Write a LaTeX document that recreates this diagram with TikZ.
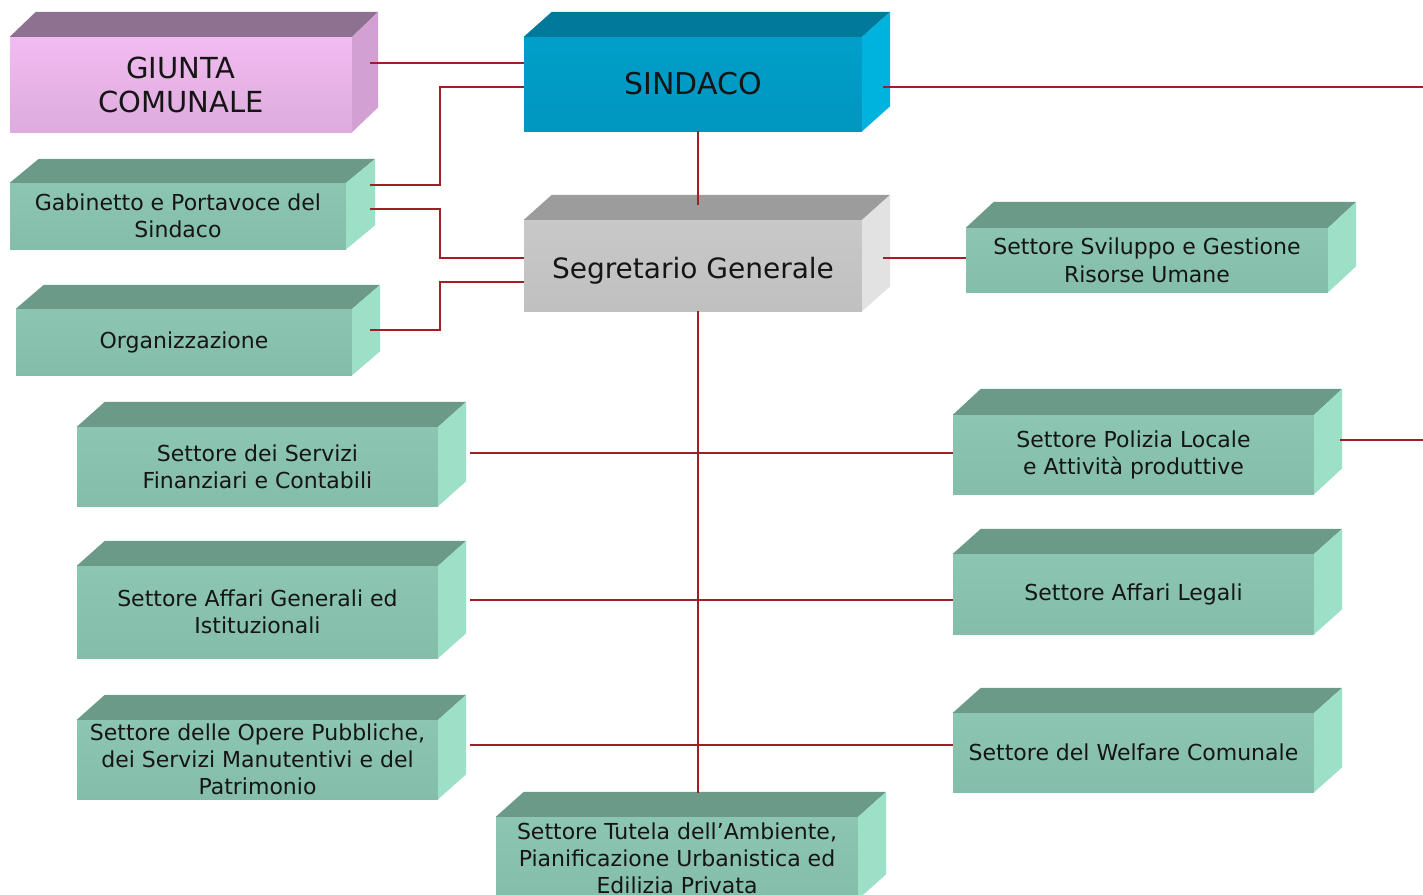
\documentclass[tikz,border=0pt]{standalone}
\usepackage{fontspec}
\setmainfont{DejaVu Sans}
\usetikzlibrary{calc}
\definecolor{linered}{HTML}{A01E26}
\definecolor{pinkF1}{HTML}{F1BCF1}
\definecolor{pinkF2}{HTML}{DEABDE}
\definecolor{pinkT}{HTML}{8E7190}
\definecolor{pinkS}{HTML}{D3A0D3}
\definecolor{blueF1}{HTML}{009FCA}
\definecolor{blueF2}{HTML}{0096C0}
\definecolor{blueT}{HTML}{00799A}
\definecolor{blueS}{HTML}{00B3DF}
\definecolor{grayF1}{HTML}{C8C8C8}
\definecolor{grayF2}{HTML}{C0C0C0}
\definecolor{grayT}{HTML}{9C9C9C}
\definecolor{grayS}{HTML}{E2E2E2}
\definecolor{grnF1}{HTML}{8CC6B2}
\definecolor{grnF2}{HTML}{84BDA9}
\definecolor{grnT}{HTML}{6C9A88}
\definecolor{grnS}{HTML}{9CE0C8}
\definecolor{txt}{HTML}{151515}
\tikzset{
  face/.style={draw=none, inner sep=0pt, align=center, text=txt,
    font=\fontsize{22}{27}\selectfont},
  greenbox/.style={face, top color=grnF1, bottom color=grnF2},
  pinkbox/.style={face, top color=pinkF1, bottom color=pinkF2,
    font=\fontsize{29}{34}\selectfont},
  bluebox/.style={face, top color=blueF1, bottom color=blueF2,
    font=\fontsize{30}{34}\selectfont},
  graybox/.style={face, top color=grayF1, bottom color=grayF2,
    font=\fontsize{28}{32}\selectfont, text height=26pt, text depth=0pt},
  conn/.style={draw=linered, line width=1.5pt}
}
% #1 node, #2 dx, #3 dy, #4 top colour, #5 side colour
\newcommand\cubesides[5]{%
  \fill[#4] (#1.north west) -- ++(#2,-#3) -- ($(#1.north east)+(#2,-#3)$) -- (#1.north east) -- cycle;
  \fill[#5] (#1.north east) -- ++(#2,-#3) -- ($(#1.south east)+(#2,-#3)$) -- (#1.south east) -- cycle;
}
\begin{document}
\begin{tikzpicture}[x=1pt,y=-1pt]
\useasboundingbox (0,0) rectangle (1423,894);
\clip (0,0) rectangle (1423,894);
\fill[white] (0,0) rectangle (1423,894);

% ---- boxes ----
\node[pinkbox, minimum width=342pt, minimum height=95pt] (giunta) at (181,84.5) {GIUNTA\\COMUNALE};
\cubesides{giunta}{26}{25}{pinkT}{pinkS}

\node[bluebox, minimum width=338pt, minimum height=94pt] (sind) at (693,84) {SINDACO};
\cubesides{sind}{28}{25}{blueT}{blueS}

\node[greenbox, minimum width=336pt, minimum height=66pt] (gab) at (178,216) {Gabinetto e Portavoce del\\Sindaco};
\cubesides{gab}{29}{24}{grnT}{grnS}

\node[graybox, minimum width=338pt, minimum height=91pt] (seg) at (693,265.5) {Segretario Generale};
\cubesides{seg}{28}{25}{grayT}{grayS}

\node[greenbox, minimum width=336pt, minimum height=66pt] (org) at (184,342) {Organizzazione};
\cubesides{org}{28}{24}{grnT}{grnS}

\node[greenbox, minimum width=362pt, minimum height=64pt] (svil) at (1147,260) {Settore Sviluppo e Gestione\\[1pt]Risorse Umane};
\cubesides{svil}{28}{26}{grnT}{grnS}

\node[greenbox, minimum width=361pt, minimum height=79pt] (fin) at (257.5,466.5) {Settore dei Servizi\\Finanziari e Contabili};
\cubesides{fin}{28}{25}{grnT}{grnS}

\node[greenbox, minimum width=361pt, minimum height=79pt] (pol) at (1133.5,454.5) {Settore Polizia Locale\\e Attività produttive};
\cubesides{pol}{28}{26}{grnT}{grnS}

\node[greenbox, minimum width=361pt, minimum height=92pt] (aff) at (257.5,612) {Settore Affari Generali ed\\Istituzionali};
\cubesides{aff}{28}{25}{grnT}{grnS}

\node[greenbox, minimum width=361pt, minimum height=80pt] (leg) at (1133.5,594) {Settore Affari Legali};
\cubesides{leg}{28}{25}{grnT}{grnS}

\node[greenbox, minimum width=361pt, minimum height=79pt] (op) at (257.5,759.5) {Settore delle Opere Pubbliche,\\dei Servizi Manutentivi e del\\Patrimonio};
\cubesides{op}{28}{25}{grnT}{grnS}

\node[greenbox, minimum width=361pt, minimum height=79pt] (wel) at (1133.5,752.5) {Settore del Welfare Comunale};
\cubesides{wel}{28}{25}{grnT}{grnS}

\node[greenbox, minimum width=362pt, minimum height=82pt] (tut) at (677,858) {Settore Tutela dell’Ambiente,\\Pianificazione Urbanistica ed\\Edilizia Privata};
\cubesides{tut}{28}{25}{grnT}{grnS}

% ---- connectors ----
\coordinate (vx) at (698,0);
\coordinate (bx) at (440,0);
\coordinate (redge1) at (1423,87);
\coordinate (redge2) at (1423,440);

\draw[conn] ([xshift=18pt]giunta.east |- 0,63) -- (sind.west |- 0,63);
\draw[conn] ([xshift=24pt]gab.east |- 0,185) -- (bx |- 0,185) -- (bx |- 0,87) -- (sind.west |- 0,87);
\draw[conn] ([xshift=24pt]gab.east |- 0,209) -- (bx |- 0,209) -- (bx |- 0,258) -- (seg.west |- 0,258);
\draw[conn] ([xshift=18pt]org.east |- 0,330) -- (bx |- 0,330) -- (bx |- 0,282) -- (seg.west |- 0,282);

\draw[conn] ([xshift=21pt]sind.east |- redge1) -- (redge1);
\draw[conn] (sind.south -| vx) -- ([yshift=15pt]seg.north -| vx);
\draw[conn] ([xshift=21pt]seg.east |- 0,258) -- (svil.west |- 0,258);
\draw[conn] (seg.south -| vx) -- ([yshift=24pt]tut.north -| vx);

\draw[conn] ([xshift=32pt]fin.east |- 0,453) -- (pol.west |- 0,453);
\draw[conn] ([xshift=26pt]pol.east |- redge2) -- (redge2);
\draw[conn] ([xshift=32pt]aff.east |- 0,600) -- (leg.west |- 0,600);
\draw[conn] ([xshift=32pt]op.east |- 0,745) -- (wel.west |- 0,745);
\end{tikzpicture}
\end{document}
